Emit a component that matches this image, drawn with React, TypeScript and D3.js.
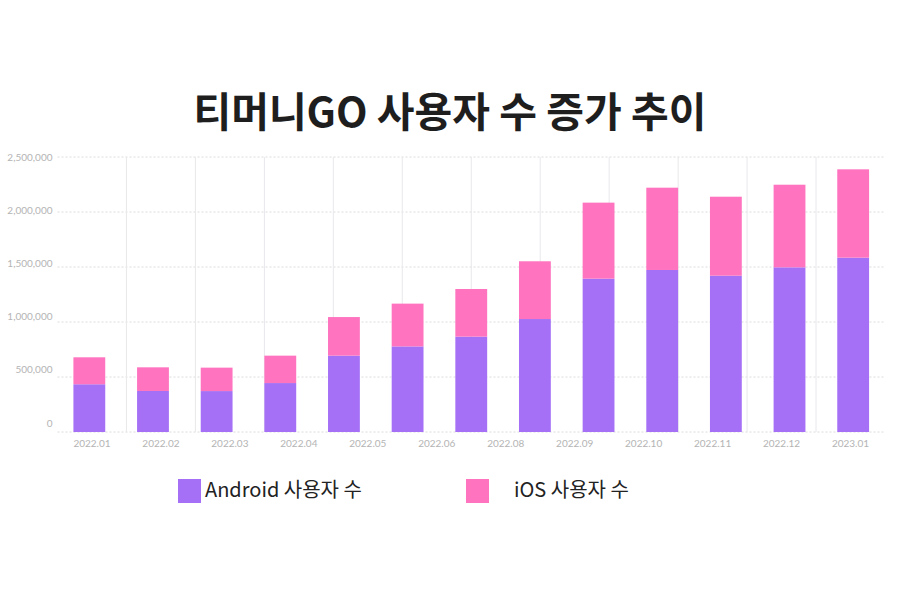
import * as d3 from "d3";
import { useEffect, useRef } from "react";

// months for every bar (the picture has 13 bars)
const barMonths = [
  "2022.01", "2022.02", "2022.03", "2022.04", "2022.05", "2022.06", "2022.07",
  "2022.08", "2022.09", "2022.10", "2022.11", "2022.12", "2023.01"
];
// axis labels as printed (2022.07 is missing under the axis)
const axisLabels = [
  "2022.01", "2022.02", "2022.03", "2022.04", "2022.05", "2022.06",
  "2022.08", "2022.09", "2022.10", "2022.11", "2022.12", "2023.01"
];
const androidUsers = [434000, 373000, 372000, 445000, 694000, 778000, 867000, 1027000, 1394000, 1473000, 1421000, 1497000, 1585000];
const iosUsers = [245000, 215000, 213000, 249000, 351000, 389000, 433000, 525000, 691000, 748000, 718000, 751000, 803000];
const yTicks = [0, 500000, 1000000, 1500000, 2000000, 2500000];
const seriesNames = ["Android 사용자 수", "iOS 사용자 수"];
const colors = ["#a570f6", "#ff73bf"];

const App = () => {
  const svgRef = useRef<SVGSVGElement | null>(null);

  const width = 900;
  const height = 600;
  const margin = { top: 157, right: 15, bottom: 168, left: 57.5 };
  const innerWidth = width - margin.left - margin.right;
  const innerHeight = height - margin.top - margin.bottom;

  useEffect(() => {
    const svg = d3.select(svgRef.current);
    svg.selectAll("*").remove();

    const xBars = d3.scaleBand().domain(barMonths).range([0, innerWidth])
      .paddingInner(0.5)
      .paddingOuter(0.25);
    const xLabels = d3.scaleBand().domain(axisLabels).range([0, innerWidth]);
    const y = d3.scaleLinear().domain([0, 2500000]).range([innerHeight, 0]);
    // tick texts sit a bit off the grid lines in the original
    const yText = d3.scaleLinear().domain([0, 2500000]).range([innerHeight - 9, 0.5]);

    const g = svg.append("g").attr("transform", `translate(${margin.left},${margin.top})`);

    // horizontal dotted grid
    g.append("g")
      .selectAll("line")
      .data(yTicks)
      .enter()
      .append("line")
      .attr("x1", 0)
      .attr("x2", innerWidth)
      .attr("y1", d => y(d))
      .attr("y2", d => y(d))
      .attr("stroke", "#dcdcdc")
      .attr("stroke-width", 1)
      .attr("stroke-dasharray", "2,2");

    // vertical category separators
    g.append("g")
      .selectAll("line")
      .data(axisLabels.slice(1))
      .enter()
      .append("line")
      .attr("x1", d => xLabels(d) ?? 0)
      .attr("x2", d => xLabels(d) ?? 0)
      .attr("y1", 0)
      .attr("y2", innerHeight)
      .attr("stroke", "#e8e8ec")
      .attr("stroke-width", 1);

    // y tick labels
    g.append("g")
      .selectAll("text")
      .data(yTicks)
      .enter()
      .append("text")
      .attr("x", -5)
      .attr("y", d => yText(d))
      .attr("dy", "0.35em")
      .attr("text-anchor", "end")
      .attr("font-family", "Lato, sans-serif")
      .attr("font-size", 10)
      .attr("fill", "#b4b4b4")
      .text(d => d3.format(",")(d));

    // x labels
    g.append("g")
      .selectAll("text")
      .data(axisLabels)
      .enter()
      .append("text")
      .attr("x", d => (xLabels(d) ?? 0) + xLabels.bandwidth() / 2)
      .attr("y", innerHeight + 11)
      .attr("dy", "0.35em")
      .attr("text-anchor", "middle")
      .attr("font-family", "Lato, sans-serif")
      .attr("font-size", 10)
      .attr("fill", "#b4b4b4")
      .text(d => d);

    // stacked bars
    const rows = barMonths.map((m, i) => ({ month: m, android: androidUsers[i], ios: iosUsers[i] }));
    const stacked = d3.stack<{ month: string; android: number; ios: number }>().keys(["android", "ios"])(rows);

    g.selectAll("g.layer")
      .data(stacked)
      .enter()
      .append("g")
      .attr("class", "layer")
      .attr("fill", (d, i) => colors[i])
      .selectAll("rect")
      .data(d => d)
      .enter()
      .append("rect")
      .attr("x", d => xBars(d.data.month) ?? 0)
      .attr("width", xBars.bandwidth())
      .attr("y", d => y(d[1]))
      .attr("height", d => y(d[0]) - y(d[1]));

    // title
    svg.append("text")
      .attr("x", 450)
      .attr("y", 113)
      .attr("dy", "0.35em")
      .attr("text-anchor", "middle")
      .attr("font-family", "'Noto Sans CJK KR', sans-serif")
      .attr("font-weight", "bold")
      .attr("font-size", 41)
      .attr("fill", "#1e1e1e")
      .text("티머니GO 사용자 수 증가 추이");

    // legend
    const legendX = [178, 466];
    const textX = [205, 514];
    const legend = svg.append("g");
    seriesNames.forEach((name, i) => {
      legend.append("rect")
        .attr("x", legendX[i])
        .attr("y", 479)
        .attr("width", 23)
        .attr("height", 24)
        .attr("fill", colors[i]);
      legend.append("text")
        .attr("x", textX[i])
        .attr("y", 490)
        .attr("dy", "0.35em")
        .attr("font-family", "'Noto Sans CJK KR', sans-serif")
        .attr("font-size", 20)
        .attr("fill", "#222")
        .text(name);
    });
  }, []);

  return (
    <svg
      ref={svgRef}
      width={width}
      height={height}
      style={{ position: "absolute", left: 0, top: 0, background: "#fff" }}
    ></svg>
  );
};

export default App;
